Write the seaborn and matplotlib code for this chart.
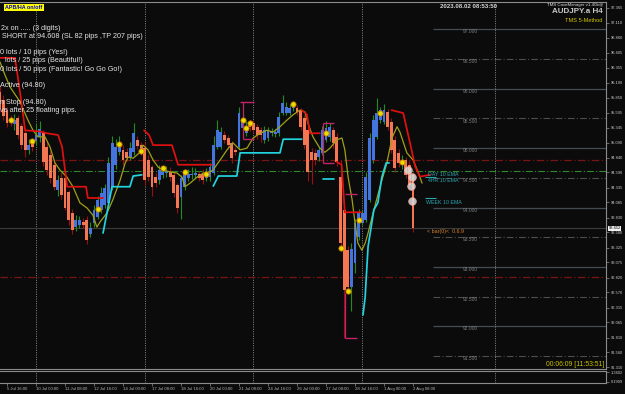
import numpy as np
import pandas as pd
import matplotlib
matplotlib.use("Agg")
import matplotlib.pyplot as plt
import seaborn as sns
from matplotlib.transforms import blended_transform_factory

# ---------------- data ----------------
bar_index = list(range(-2, 113))
open_ = [95.94, 95.81, 95.64, 95.49, 95.40, 95.50, 95.38, 95.26, 94.97, 95.10,
         95.12, 95.18, 95.27, 95.02, 94.88, 94.72, 94.30, 94.50, 94.50, 94.26,
         93.91, 93.67, 93.71, 93.76, 93.79, 93.55, 93.74, 93.84, 93.96, 94.04,
         94.07, 94.35, 94.72, 94.93, 94.97, 94.94, 94.85, 94.93, 95.14, 95.05,
         95.00, 94.80, 94.68, 94.51, 94.46, 94.55, 94.58, 94.60, 94.55, 94.38,
         94.17, 94.34, 94.49, 94.55, 94.55, 94.57, 94.57, 94.50, 94.51, 94.58,
         95.02, 95.02, 95.22, 95.17, 95.08, 94.97, 95.02, 95.34, 95.25, 95.42,
         95.42, 95.35, 95.30, 95.14, 95.17, 95.25, 95.24, 95.25, 95.59, 95.59,
         95.59, 95.68, 95.67, 95.64, 95.50, 95.30, 94.93, 94.92, 94.85, 94.92,
         95.14, 95.19, 95.30, 95.19, 94.51, 93.96, 93.28, 92.66, 93.06, 93.50,
         93.74, 93.79, 94.13, 94.80, 95.19, 95.47, 95.44, 95.61, 95.44, 95.14,
         94.92, 94.72, 94.80, 94.72, 94.55]
close = [95.67, 95.54, 95.42, 95.45, 95.47, 95.22, 95.05, 94.97, 95.06, 95.02,
         95.22, 95.32, 94.77, 94.63, 94.50, 94.35, 94.46, 94.21, 94.00, 93.79,
         93.62, 93.79, 93.79, 93.71, 93.45, 93.66, 93.96, 94.13, 94.25, 94.33,
         94.75, 95.09, 95.02, 95.05, 94.80, 94.84, 95.00, 95.25, 95.03, 94.93,
         94.46, 94.52, 94.35, 94.41, 94.63, 94.60, 94.61, 94.51, 94.25, 93.99,
         94.49, 94.58, 94.56, 94.56, 94.58, 94.50, 94.46, 94.58, 94.68, 95.05,
         95.30, 95.27, 95.14, 95.05, 94.83, 94.94, 95.59, 95.47, 95.35, 95.35,
         95.30, 95.22, 95.22, 95.30, 95.30, 95.28, 95.27, 95.52, 95.76, 95.69,
         95.67, 95.72, 95.61, 95.35, 95.05, 94.60, 94.80, 94.80, 94.97, 95.30,
         95.34, 95.35, 95.08, 94.77, 93.40, 92.61, 92.66, 93.30, 93.74, 93.91,
         93.91, 94.51, 95.17, 95.47, 95.59, 95.64, 95.64, 95.35, 94.97, 94.67,
         94.75, 94.80, 94.55, 94.38, 93.65]
high = [96.05, 95.90, 95.70, 95.55, 95.58, 95.55, 95.42, 95.30, 95.15, 95.16,
        95.40, 95.45, 95.30, 95.10, 94.95, 94.80, 94.55, 94.58, 94.55, 94.30,
        93.98, 93.88, 93.85, 93.82, 93.85, 93.75, 94.05, 94.20, 94.35, 94.40,
        94.85, 95.20, 95.15, 95.20, 95.05, 95.00, 95.10, 95.42, 95.20, 95.10,
        95.10, 94.88, 94.72, 94.58, 94.72, 94.68, 94.70, 94.68, 94.62, 94.42,
        94.55, 94.65, 94.65, 94.68, 94.66, 94.62, 94.65, 94.66, 94.75, 95.20,
        95.48, 95.35, 95.28, 95.22, 95.12, 95.02, 95.70, 95.60, 95.45, 95.48,
        95.47, 95.40, 95.35, 95.38, 95.36, 95.34, 95.33, 95.60, 95.90, 95.78,
        95.75, 95.80, 95.72, 95.68, 95.55, 95.35, 95.00, 94.98, 95.02, 95.38,
        95.45, 95.42, 95.35, 95.25, 94.80, 94.00, 93.35, 93.40, 93.80, 93.98,
        93.96, 94.60, 95.25, 95.55, 95.85, 95.70, 95.75, 95.66, 95.50, 95.20,
        94.98, 94.88, 94.85, 94.78, 94.60]
low = [95.60, 95.48, 95.35, 95.38, 95.30, 95.15, 94.98, 94.85, 94.90, 94.95,
       95.05, 95.10, 94.70, 94.55, 94.42, 94.30, 94.20, 94.15, 93.95, 93.70,
       93.55, 93.60, 93.65, 93.65, 93.38, 93.50, 93.68, 93.80, 93.90, 94.00,
       94.02, 94.30, 94.65, 94.88, 94.72, 94.78, 94.80, 94.88, 94.98, 94.88,
       94.38, 94.45, 94.20, 94.35, 94.40, 94.50, 94.52, 94.45, 94.18, 93.90,
       93.80, 94.30, 94.45, 94.48, 94.50, 94.45, 94.40, 94.45, 94.45, 94.55,
       94.98, 94.98, 95.08, 94.98, 94.75, 94.88, 94.98, 95.30, 95.20, 95.28,
       95.25, 95.15, 95.10, 95.08, 95.12, 95.20, 95.18, 95.20, 95.55, 95.55,
       95.55, 95.62, 95.55, 95.30, 94.98, 94.45, 94.40, 94.72, 94.78, 94.88,
       95.10, 95.12, 95.00, 94.70, 93.30, 91.81, 92.55, 92.25, 92.90, 93.45,
       93.70, 93.75, 94.10, 94.75, 95.15, 95.42, 95.40, 95.30, 94.92, 94.60,
       94.68, 94.65, 94.50, 94.30, 93.59]

x_tick_bars = [0, 8, 16, 24, 32, 40, 48, 56, 64, 72, 80, 88, 96, 104, 112]
x_tick_labels = ["5 Jul 16:00", "10 Jul 00:00", "11 Jul 08:00", "12 Jul 16:00",
                 "14 Jul 00:00", "17 Jul 08:00", "18 Jul 16:00", "20 Jul 00:00",
                 "21 Jul 08:00", "24 Jul 16:00", "26 Jul 00:00", "27 Jul 08:00",
                 "28 Jul 16:00", "1 Aug 00:00", "2 Aug 08:00"]

price_ticks = [97.365, 97.110, 96.860, 96.605, 96.355, 96.100, 95.850, 95.595,
               95.345, 95.090, 94.840, 94.590, 94.335, 94.085, 93.830, 93.580,
               93.325, 93.075, 92.820, 92.570, 92.315, 92.065, 91.810, 91.560,
               91.310]

whole_levels = [97.0, 96.0, 95.0, 94.0, 93.0, 92.0]
half_levels = [96.5, 95.5, 94.5, 93.5, 92.5, 91.5]

week_sep_bars = [8, 38, 68, 98, 134.6]

ema_bar = [-1.93, -0.55, 0.83, 3.59, 5.79, 7.17, 8.55, 10.48, 11.86, 13.24, 14.62,
           16.55, 18.2, 20.1, 22.1, 23.7, 24.8, 25.7, 27.6, 29.2, 31.2, 32.6, 33.4,
           34.8, 36.7, 37.5, 38.9, 40.3, 41.7, 43.0, 45.0, 46.9, 48.3, 49.1, 50.5,
           52.4, 54.1, 56.0, 56.8, 58.8, 60.7, 62.3, 64.3, 66.2, 67.9, 69.8, 71.7,
           73.4, 75.3, 77.2, 78.9, 80.8, 82.2, 83.0, 84.4, 86.3, 87.7, 89.1, 91.0,
           92.4, 93.2, 94.1, 95.2, 96.0, 96.8, 97.9, 98.8, 99.6, 101.0, 102.9,
           104.8, 106.2, 107.6, 108.4, 110.3, 112.0, 113.4, 114.5]
ema_val = [96.45, 96.23, 96.03, 95.78, 95.47, 95.30, 95.19, 95.19, 95.02, 94.75,
           94.63, 94.51, 94.35, 94.08, 93.99, 93.87, 93.67, 93.76, 93.91, 94.13,
           94.46, 94.75, 94.85, 94.83, 94.93, 95.05, 94.97, 94.80, 94.68, 94.63,
           94.60, 94.58, 94.51, 94.35, 94.41, 94.51, 94.58, 94.60, 94.63, 94.80,
           94.97, 95.09, 94.97, 95.00, 95.17, 95.25, 95.30, 95.27, 95.36, 95.47,
           95.56, 95.64, 95.61, 95.42, 95.19, 95.00, 94.93, 95.00, 95.14, 95.17,
           94.97, 94.51, 94.13, 93.74, 93.40, 93.28, 93.40, 93.57, 93.91, 94.35,
           94.75, 95.17, 95.36, 95.27, 94.92, 94.80, 94.60, 94.41]

red_a_bar = [-1.93, 2.2, 3.9, 5.0, 9.1, 11.0, 14.1, 15.2, 16.6, 21.8, 22.3, 26.5]
red_a_val = [96.52, 96.52, 95.81, 95.30, 95.28, 95.25, 95.22, 95.02, 94.35, 94.35, 94.16, 94.16]
red_b_bar = [37.8, 39.2, 40.3, 45.5, 47.2, 56.5]
red_b_val = [95.30, 95.22, 95.05, 95.05, 94.72, 94.72]
red_c_bar = [81.3, 82.7, 83.6, 86.3]
red_c_val = [95.64, 95.57, 95.25, 95.25]
red_d_bar = [90.95, 92.3, 93.2, 97.6]
red_d_val = [94.77, 94.72, 93.92, 93.92]
red_e_bar = [106.1, 109.3, 111.2, 112.6, 113.9, 116.7]
red_e_val = [95.64, 95.59, 95.08, 94.69, 94.52, 94.55]

cyan_a_bar = [26.5, 28.97, 33.9, 34.8, 37.2]
cyan_a_val = [93.57, 94.35, 94.35, 94.53, 94.55]
cyan_b_bar = [56.9, 58.3, 63.4, 64.3, 75.3, 76.2, 81.3]
cyan_b_val = [94.36, 94.53, 94.53, 94.92, 94.92, 95.15, 95.15]
cyan_c_bar = [87.2, 90.2]
cyan_c_val = [94.48, 94.48]
cyan_d_bar = [98.2, 98.8, 99.6, 101.2, 102.3, 103.4, 104.6, 105.4]
cyan_d_val = [92.19, 92.49, 93.34, 93.96, 94.08, 94.51, 94.75, 94.75]

signal_bar = [1, 7, 25, 31, 37, 43, 49, 55, 65, 66, 67, 79, 88, 92, 94, 97, 103, 109]
signal_val = [95.47, 95.12, 93.97, 95.07, 94.95, 94.66, 94.60, 94.56, 95.47, 95.34,
              95.42, 95.74, 95.25, 93.32, 92.60, 93.79, 95.59, 94.77]

ema_touch_bar = [110.5, 111.7, 111.5, 111.7]
ema_touch_val = [94.63, 94.51, 94.36, 94.11]

box_h_bar0 = [64.3, 65.1, 87.2, 87.2, 93.2, 93.2]
box_h_bar1 = [68.1, 68.1, 90.3, 90.3, 96.6, 96.6]
box_h_val = [95.78, 95.15, 95.42, 94.75, 94.22, 91.81]
box_v_bar = [65.1, 87.2, 93.2]
box_v_lo = [95.15, 94.75, 91.81]
box_v_hi = [95.78, 95.42, 92.56]

stop_level = 94.80
entry_level = 94.608
target_level = 92.83
last_price = 93.652

info_lines = ["2x on ..... (3 digits)",
              "SHORT at 94.608 (SL 82 pips ,TP 207 pips)",
              "0 lots / 10 pips (Yes!)",
              "lots / 25 pips (Beautiful!)",
              "0 lots / 50 pips (Fantastic! Go Go Go!)",
              "Active (94.80)",
              "n Stop (94.80)",
              "ve after 25 floating pips."]

# ---------------- style ----------------
BG = "#0b0b0b"
sns.set_theme(style="dark", rc={"axes.facecolor": BG, "figure.facecolor": BG,
                                "axes.grid": False})
plt.rcParams['font.family'] = ['Liberation Sans', 'DejaVu Sans']

BULL = "#4475dc"
BEAR = "#f47652"
BULL_WICK = "#228b22"
BEAR_WICK = "#9a1010"
GREY = "#8c8c8c"

fig = plt.figure(figsize=(6.25, 3.94), dpi=100)
ax = fig.add_axes([0, 1 - 369 / 394, 606 / 625, 367 / 394])
ax2 = fig.add_axes([0, 1 - 383 / 394, 606 / 625, 12 / 394])
XL = (-1.93, 165.24)
ax.set_xlim(*XL)
ax.set_ylim(91.281, 97.46)
ax2.set_xlim(*XL)
ax2.set_ylim(0.05, 1.5)

df = pd.DataFrame({"bar": bar_index, "open": open_, "close": close,
                   "high": high, "low": low})
bull = df["close"] >= df["open"]

# reference grid levels (right part only)
ax.hlines(whole_levels, 117.5, XL[1], colors="#454b53", lw=0.9, zorder=1)
ax.hlines(half_levels, 117.5, XL[1], colors="#4e4e4e", lw=0.8,
          linestyles=(0, (6, 2, 1, 2)), zorder=1)
for lv in whole_levels + half_levels:
    ax.text(127.7, lv - 0.045, f"{lv:.3f}", color="#7c7c7c", fontsize=3.5,
            ha="center", va="center", zorder=2)

# week separators
for b in week_sep_bars:
    for a in (ax, ax2):
        a.axvline(b, color="#9a9a9a", lw=0.6, ls=(0, (1.2, 1.6)), zorder=1)

# horizontal trade levels
ax.axhline(stop_level, color="#7a1414", lw=0.9, ls=(0, (6, 2, 1, 2)), zorder=1)
ax.axhline(entry_level, color="#2f8a2f", lw=0.8, ls=(0, (6, 2, 1, 2)), zorder=1)
ax.axhline(target_level, color="#7a1414", lw=0.9, ls=(0, (6, 2, 1, 2)), zorder=1)
ax.axhline(last_price, color="#3c3c3c", lw=0.8, zorder=1)

# candles
ax.vlines(df["bar"], df["low"], df["high"],
          colors=np.where(bull, BULL_WICK, BEAR_WICK), lw=0.8, zorder=2)
body = df["close"] - df["open"]
body = body.where(body.abs() >= 0.02, np.where(bull, 0.02, -0.02))
ax.bar(df["bar"], body, bottom=df["open"], width=0.8,
       color=np.where(bull, BULL, BEAR), linewidth=0, zorder=3)

# EMA line
sns.lineplot(x=ema_bar, y=ema_val, ax=ax, color="#a0a01a", lw=0.9,
             estimator=None, sort=False, legend=False, zorder=4)

# trailing stop lines
for xs, ys in [(red_a_bar, red_a_val), (red_b_bar, red_b_val), (red_c_bar, red_c_val),
               (red_d_bar, red_d_val), (red_e_bar, red_e_val)]:
    sns.lineplot(x=xs, y=ys, ax=ax, color="#e01010", lw=1.25, estimator=None,
                 sort=False, legend=False, zorder=5)
for xs, ys in [(cyan_a_bar, cyan_a_val), (cyan_b_bar, cyan_b_val),
               (cyan_c_bar, cyan_c_val), (cyan_d_bar, cyan_d_val)]:
    sns.lineplot(x=xs, y=ys, ax=ax, color="#22d3e0", lw=1.25, estimator=None,
                 sort=False, legend=False, zorder=5)

# boxes
ax.hlines(box_h_val, box_h_bar0, box_h_bar1, colors="#c2246c", lw=1.0, zorder=5)
ax.vlines(box_v_bar, box_v_lo, box_v_hi, colors="#c2246c", lw=0.9, zorder=5)

# signal dots
sns.scatterplot(x=signal_bar, y=signal_val, ax=ax, s=14, color="#e6e000",
                edgecolor="#d07a00", linewidth=0.6, zorder=6, legend=False)
sns.scatterplot(x=ema_touch_bar, y=ema_touch_val, ax=ax, s=30, color="#dcdcdc",
                edgecolor="#f0b0a0", linewidth=0.6, alpha=0.85, zorder=6, legend=False)

# EMA labels
ax.hlines([94.51, 94.16], 115.3, 118.3, colors="#2aa7b0", lw=0.8, zorder=6)
ax.text(116.1, 94.56, "DAY 10 EMA", color="#2aa7b0", fontsize=3.8, va="center", zorder=7)
ax.text(116.1, 94.45, "4HR 10 EMA", color="#2aa7b0", fontsize=3.8, va="center", zorder=7)
ax.text(115.6, 94.09, "WEEK 10 EMA", color="#2aa7b0", fontsize=3.8, va="center", zorder=7)
ax.text(115.9, 93.60, "< bar(0)<  0.6.9", color="#d9822b", fontsize=3.8,
        va="center", zorder=7)

# axes styling
for a in (ax, ax2):
    a.spines["left"].set_visible(False)
    for s in ("top", "right", "bottom"):
        a.spines[s].set_color(GREY)
        a.spines[s].set_linewidth(0.8)
    a.yaxis.tick_right()
ax.set_xticks([])
ax.set_yticks(price_ticks)
ax.set_yticklabels([f"{v:.3f}" for v in price_ticks])
ax.tick_params(axis="y", right=True, length=2, width=0.5, color=GREY,
               labelsize=2.9, labelcolor="#c8c8c8", pad=1.5)
ax.set_xlabel(""); ax.set_ylabel("")

ax2.set_yticks([1.3602, 0.1909])
ax2.set_yticklabels(["1.3602", "0.1909"])
ax2.tick_params(axis="y", right=True, length=2, width=0.5, color=GREY,
                labelsize=2.9, labelcolor="#c8c8c8", pad=1.5)
ax2.set_xticks(x_tick_bars)
ax2.set_xticklabels(x_tick_labels)
for t in ax2.get_xticklabels():
    t.set_horizontalalignment("left")
ax2.tick_params(axis="x", bottom=True, length=2, width=0.5, color=GREY,
                labelsize=3.1, labelcolor="#b4b4b4", pad=1)
ax2.set_xlabel(""); ax2.set_ylabel("")

# last price box on the scale
tr = blended_transform_factory(ax.transAxes, ax.transData)
ax.text(1.004, last_price, f"{last_price:.3f}", transform=tr, fontsize=2.9,
        color="#000000", va="center", ha="left", zorder=8, clip_on=False,
        bbox=dict(boxstyle="square,pad=0.15", fc="#f0f0f0", ec="none"))

# figure texts
W, H = 625, 394
def ft(x, y, s, **kw):
    fig.text(x / W, 1 - y / H, s, **kw)

ft(5, 7.5, "APB/HA on/off", color="#0000cc", fontsize=3.9, fontweight="bold",
   va="center", ha="left",
   bbox=dict(boxstyle="square,pad=0.25", fc="#ffff00", ec="none"))
info_pos = [(1, 28.3), (2, 36.3), (0, 52.7), (5, 61), (0, 69.3), (0, 85.7),
            (0, 102), (0, 110)]
for (x, y), s in zip(info_pos, info_lines):
    ft(x, y, s, color="#e4e4e4", fontsize=5.2, va="center", ha="left")

ft(468, 7, "2023.08.02 08:53:50", color="#d8d8d8", fontsize=4.4, fontweight="bold",
   ha="center", va="center")
ft(603, 5, "TMS CaveManager v1.40b@", color="#e0e0e0", fontsize=3.2, ha="right", va="center")
ft(603, 11.5, "AUDJPY.a H4", color="#c8c8c8", fontsize=5.8, fontweight="bold",
   ha="right", va="center")
ft(602, 20, "TMS 5-Method", color="#d4c400", fontsize=4.1, ha="right", va="center")
ft(604, 364, "00:06:09 [11:53:51]", color="#c8c000", fontsize=4.9, ha="right", va="center")

fig.savefig("out.png", dpi=100, facecolor=BG)
